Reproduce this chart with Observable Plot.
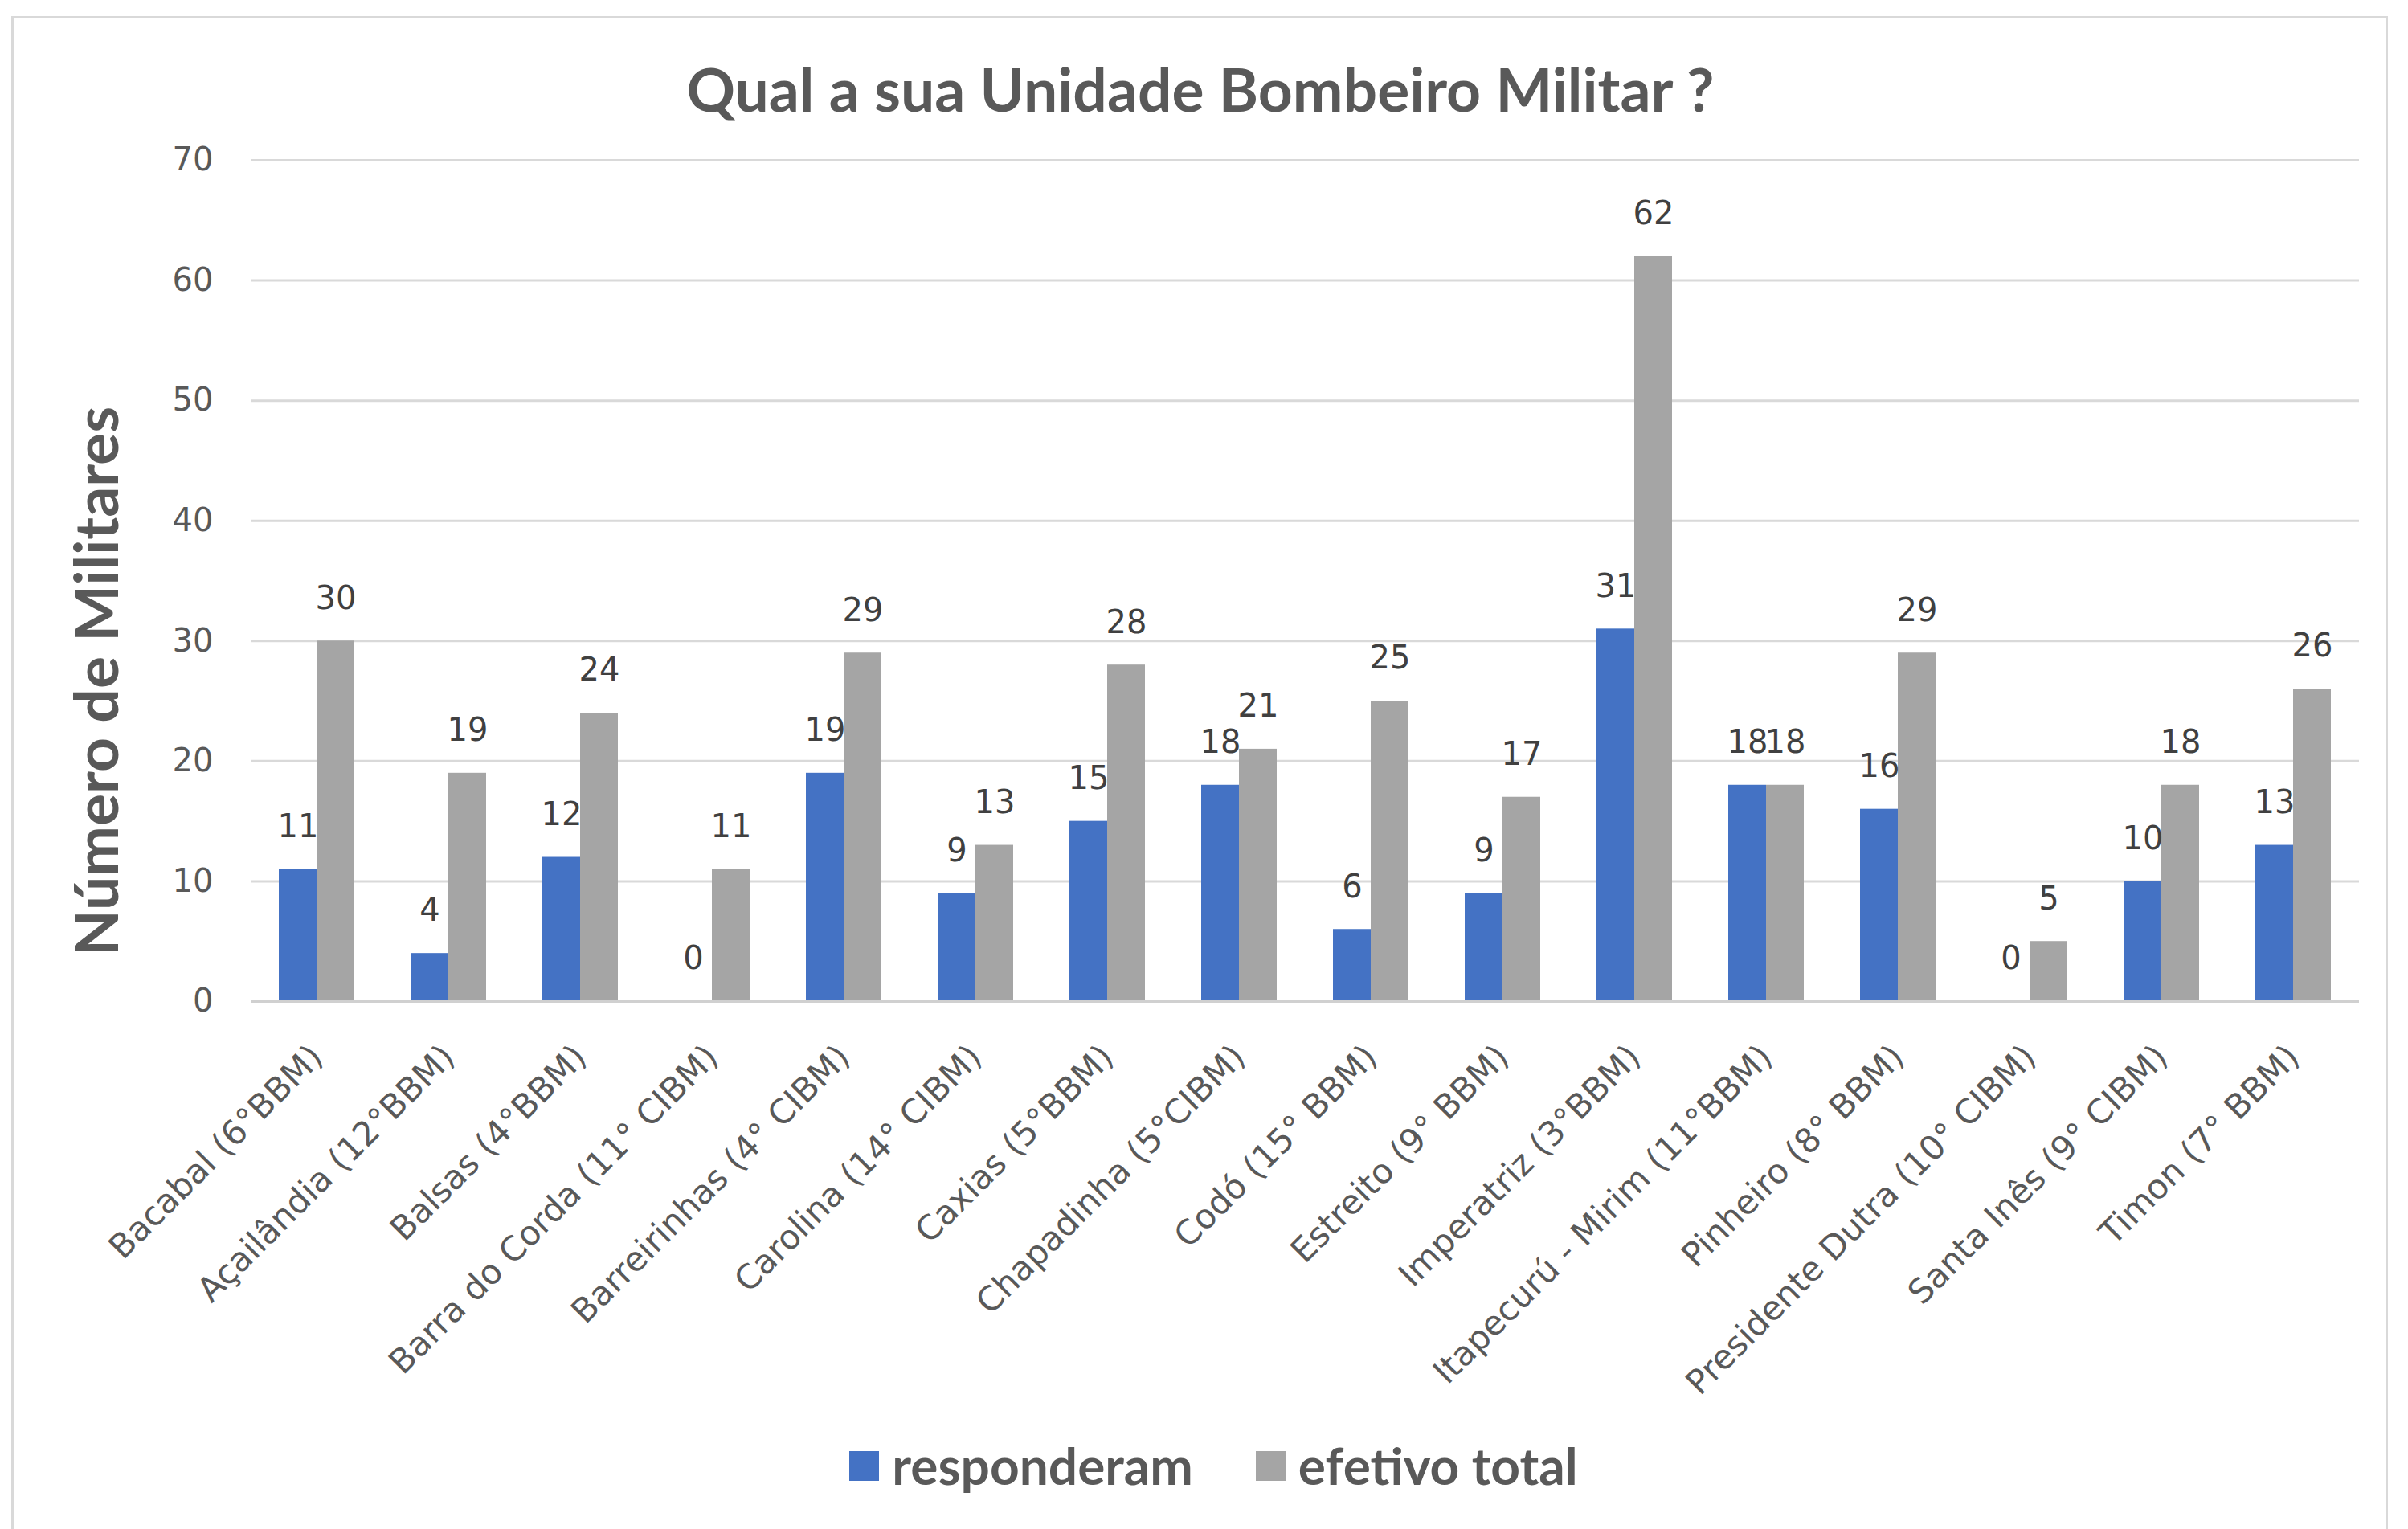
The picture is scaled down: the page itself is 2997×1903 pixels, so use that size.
<!DOCTYPE html>
<html>
<head>
<meta charset="utf-8">
<script src="https://cdn.jsdelivr.net/npm/d3@7"></script>
<script src="https://cdn.jsdelivr.net/npm/@observablehq/plot@0.6"></script>
<style>
  html, body { margin: 0; padding: 0; background: #fff; }
  #wrap { position: relative; width: 2997px; height: 1903px; overflow: hidden; }
  #border { position: absolute; left: 14px; top: 20px; width: 2958px; height: 1900px; border: 3px solid #d9d9d9; box-sizing: border-box; }
  #chart { position: absolute; left: 0; top: 0; }
  #title { position: absolute; left: 0; width: 2988px; top: 73px; text-align: center; font-family: Lato, sans-serif; font-weight: 700; font-size: 75px; color: #595959; line-height: 1; }
  #ylabel { position: absolute; left: 118px; top: 848px; transform: translate(-50%, -50%) rotate(-90deg); white-space: nowrap; font-family: Lato, sans-serif; font-weight: 700; font-size: 75px; color: #595959; line-height: 1; }
  #legend { position: absolute; left: 0; width: 2997px; top: 1792px; display: flex; justify-content: center; align-items: center; gap: 78px; font-family: Lato, sans-serif; font-weight: 700; font-size: 64px; color: #595959; line-height: 1; padding-left: 24px; box-sizing: border-box; }
  .item { display: flex; align-items: center; gap: 16px; }
  .sw { width: 37px; height: 37px; display: inline-block; }
</style>
</head>
<body>
<div id="wrap">
  <div id="border"></div>
  <div id="chart"></div>
  <div id="title"></div>
  <div id="ylabel"></div>
  <div id="legend"></div>
</div>
<script>
const titleText = "Qual a sua Unidade Bombeiro Militar ?";
const yLabelText = "Número de Militares";
const categories = [
  "Bacabal (6°BBM)", "Açailândia (12°BBM)", "Balsas (4°BBM)", "Barra do Corda (11° CIBM)",
  "Barreirinhas (4° CIBM)", "Carolina (14° CIBM)", "Caxias (5°BBM)", "Chapadinha (5°CIBM)",
  "Codó (15° BBM)", "Estreito (9° BBM)", "Imperatriz (3°BBM)", "Itapecurú - Mirim (11°BBM)",
  "Pinheiro (8° BBM)", "Presidente Dutra (10° CIBM)", "Santa Inês (9° CIBM)", "Timon (7° BBM)"
];
const responderam = [11, 4, 12, 0, 19, 9, 15, 18, 6, 9, 31, 18, 16, 0, 10, 13];
const efetivoTotal = [30, 19, 24, 11, 29, 13, 28, 21, 25, 17, 62, 18, 29, 5, 18, 26];
const seriesNames = ["responderam", "efetivo total"];
const seriesColors = ["#4472C4", "#A5A5A5"];
const yTicks = [0, 10, 20, 30, 40, 50, 60, 70];

const data = categories.flatMap((c, i) => [
  {unit: c, serie: seriesNames[0], value: responderam[i]},
  {unit: c, serie: seriesNames[1], value: efetivoTotal[i]}
]);

document.getElementById("title").textContent = titleText;
document.getElementById("ylabel").textContent = yLabelText;
const legend = document.getElementById("legend");
seriesNames.forEach((s, i) => {
  const it = document.createElement("div");
  it.className = "item";
  const sw = document.createElement("span");
  sw.className = "sw";
  sw.style.background = seriesColors[i];
  const t = document.createElement("span");
  t.textContent = s;
  it.appendChild(sw); it.appendChild(t);
  legend.appendChild(it);
});

const chart = Plot.plot({
  width: 2997,
  height: 1903,
  marginLeft: 311,
  marginRight: 60,
  marginTop: 199,
  marginBottom: 657,
  style: {fontFamily: "'DejaVu Sans', sans-serif", background: "transparent"},
  fx: {domain: categories, padding: 0, label: null},
  x: {domain: seriesNames, paddingInner: 0, paddingOuter: 0.71, axis: null},
  y: {domain: [0, 70]},
  color: {domain: seriesNames, range: seriesColors},
  marks: [
    Plot.gridY(yTicks, {stroke: "#d9d9d9", strokeOpacity: 1, strokeWidth: 3}),
    Plot.axisY(yTicks, {tickSize: 0, tickPadding: 47, fontSize: 40, fill: "#595959", label: null}),
    Plot.axisFx({anchor: "bottom", tickRotate: -45, tickSize: 0, tickPadding: 62, fontSize: 42, fill: "#595959", label: null, textOverflow: null, lineWidth: Infinity}),
    Plot.barY(data, {fx: "unit", x: "serie", y: "value", fill: "serie"}),
    Plot.ruleY([0], {stroke: "#d0d0d0", strokeWidth: 3}),
    Plot.text(data, {fx: "unit", x: "serie", y: "value", text: d => String(d.value), dy: -53, fontSize: 40, fill: "#404040"})
  ]
});
document.getElementById("chart").appendChild(chart);
</script>
</body>
</html>
